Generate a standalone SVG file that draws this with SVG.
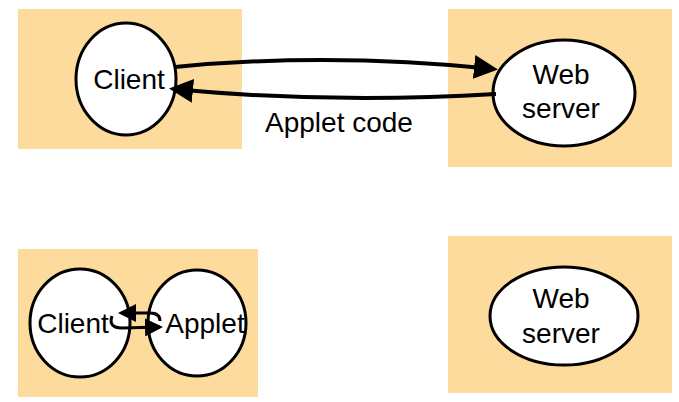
<svg xmlns="http://www.w3.org/2000/svg" width="679" height="402" viewBox="0 0 679 402">
<style>
.box{fill:#FDDB9D;}
.nd{fill:#fff;stroke:#000;stroke-width:3;}
.t{font-family:"Liberation Sans",Arial,sans-serif;font-size:28px;fill:#000;text-anchor:middle;}
.c{fill:none;stroke:#000;stroke-width:4;}
.cs{fill:none;stroke:#000;stroke-width:3;}
</style>
<defs>
<marker id="ah" markerWidth="6" markerHeight="6" refX="5" refY="3" orient="auto" markerUnits="strokeWidth">
<path d="M0,0 L6,3 L0,6 Z" fill="#000"/>
</marker>
<marker id="ahs" markerWidth="6" markerHeight="6" refX="5" refY="3" orient="auto" markerUnits="strokeWidth">
<path d="M0,0 L6,3 L0,6 Z" fill="#000"/>
</marker>
</defs>
<rect class="box" x="18" y="9" width="224" height="140"/>
<rect class="box" x="448" y="9" width="224" height="158"/>
<rect class="box" x="18" y="249" width="240" height="148"/>
<rect class="box" x="448" y="236" width="224" height="157"/>
<g id="client-top">
<ellipse class="nd" cx="126" cy="79" rx="50" ry="56"/>
<text class="t" x="129" y="89">Client</text>
</g>
<g id="webserver-top">
<ellipse class="nd" cx="564" cy="93" rx="71" ry="53"/>
<text class="t" x="561" y="84">Web</text>
<text class="t" x="561" y="118">server</text>
</g>
<g id="client-bottom">
<ellipse class="nd" cx="80" cy="323" rx="50" ry="54"/>
<text class="t" x="73" y="333">Client</text>
</g>
<g id="applet-bottom">
<ellipse class="nd" cx="197" cy="323" rx="49" ry="53"/>
<text class="t" x="205" y="333">Applet</text>
</g>
<g id="webserver-bottom">
<ellipse class="nd" cx="564" cy="316" rx="74" ry="49"/>
<text class="t" x="561" y="308">Web</text>
<text class="t" x="561" y="343">server</text>
</g>
<g id="connectors">
<path class="c" d="M175,67 Q330,52 494,69" marker-end="url(#ah)"/>
<path class="c" d="M496,94 Q330,104 173,89" marker-end="url(#ah)"/>
<text class="t" x="339" y="132">Applet code</text>
<path class="cs" d="M160,321 Q160,313 150,313 L121,313" marker-end="url(#ahs)"/>
<path class="cs" d="M112,316 Q108,328 122,328 L160,327" marker-end="url(#ahs)"/>
</g>
</svg>
